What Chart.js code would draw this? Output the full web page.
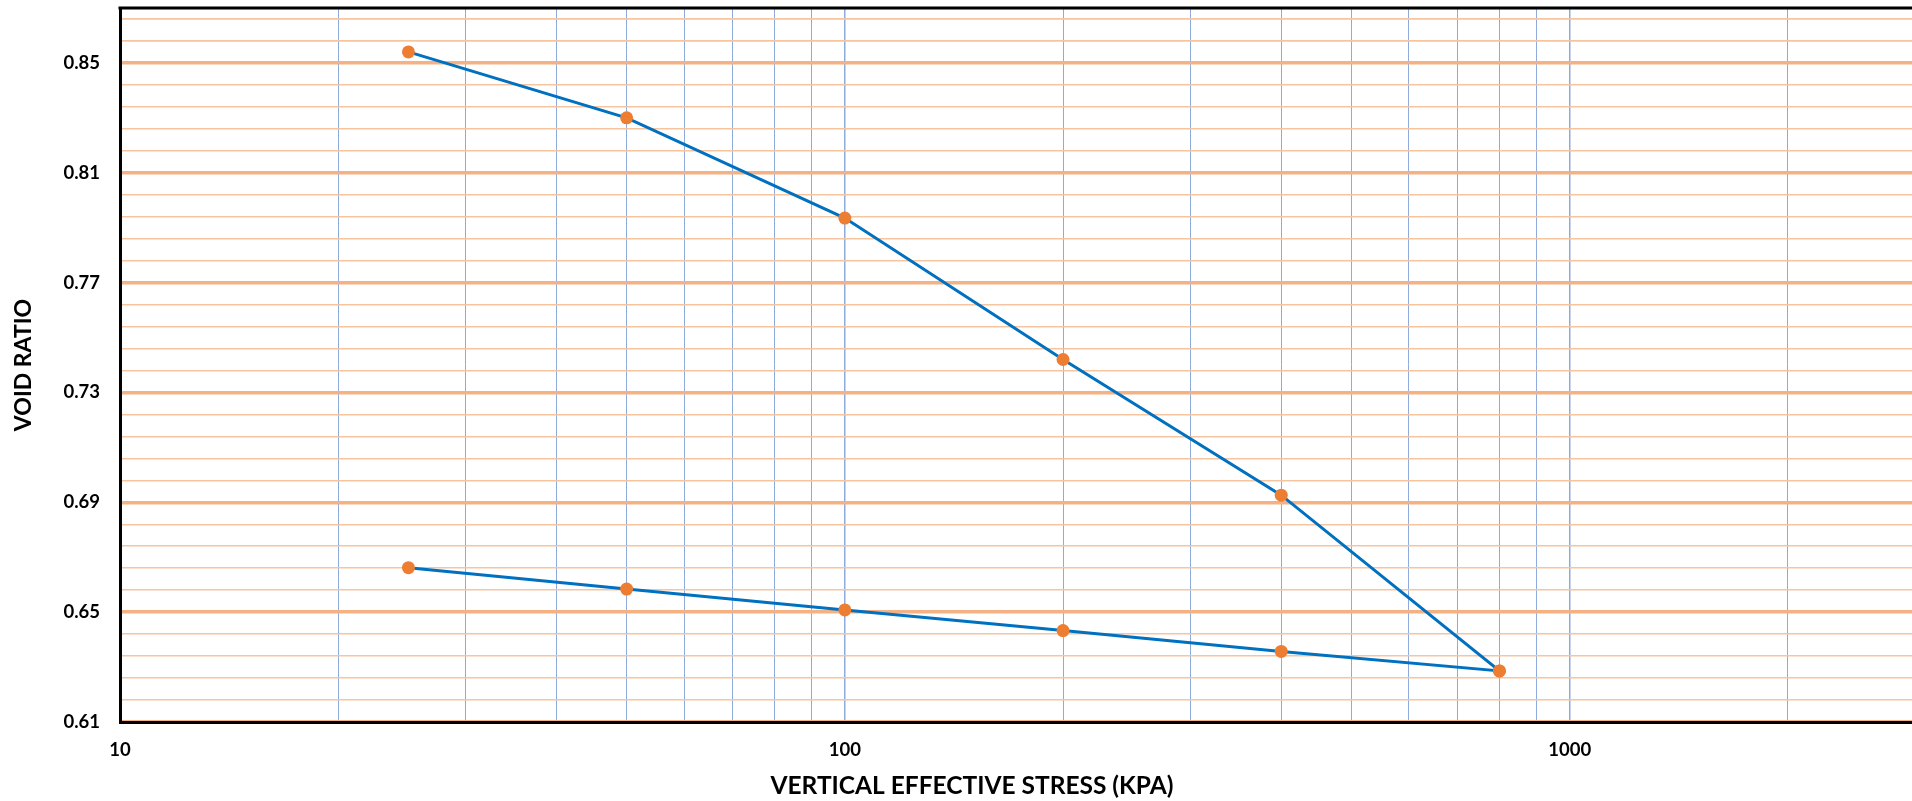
<!DOCTYPE html>
<html>
<head>
<meta charset="utf-8">
<script src="https://cdn.jsdelivr.net/npm/chart.js@4/dist/chart.umd.min.js"></script>
<style>
  html, body { margin: 0; padding: 0; background: #fff; overflow: hidden; }
  #wrap { width: 1912px; height: 801px; overflow: hidden; }
</style>
</head>
<body>
<div id="wrap"><canvas id="oedometerChart" width="1922" height="801"></canvas></div>
<script>
// Data
const stressKPa = [25, 50, 100, 200, 400, 800];
const loadingVoid = [0.854, 0.830, 0.7935, 0.742, 0.6926, 0.6286];
const unloadingVoid = [0.6662, 0.6584, 0.6508, 0.6433, 0.6357, 0.6286];

// Axes
const xTickLabels = [10, 100, 1000];
const xGridValues = [10, 20, 30, 40, 50, 60, 70, 80, 90,
  100, 200, 300, 400, 500, 600, 700, 800, 900, 1000, 2000, 3000];
const yTickLabels = [0.61, 0.65, 0.69, 0.73, 0.77, 0.81, 0.85];
const yMinorStep = 0.008;

// one curve: load up to 800, then unload back to 25
const curve = stressKPa.map((s, i) => ({ x: s, y: loadingVoid[i] }))
  .concat(stressKPa.slice().reverse().map((s, i) => ({ x: s, y: unloadingVoid[stressKPa.length - 1 - i] })));

const yGridValues = [];
yTickLabels.forEach(v => {
  for (let k = 0; k < 5; k++) yGridValues.push(+(v + k * yMinorStep).toFixed(3));
});
yGridValues.push(0.858, 0.866);

const FONT = "Lato, 'Open Sans', sans-serif";
const isMajorY = v => yTickLabels.some(t => Math.abs(t - v) < 1e-6);

// no extra room for tick labels, the plot fills the canvas
function noPadding(scale) {
  scale.paddingTop = 0;
  scale.paddingBottom = 0;
  scale.paddingLeft = 0;
  scale.paddingRight = 0;
}

// top frame line + x title (title is off-centre in the original)
const framePlugin = {
  id: "frame",
  beforeDatasetsDraw(chart) {
    const { ctx, chartArea } = chart;
    ctx.save();
    ctx.strokeStyle = "#000";
    ctx.lineWidth = 3;
    ctx.beginPath();
    ctx.moveTo(chartArea.left - 1.5, chartArea.top);
    ctx.lineTo(chartArea.right, chartArea.top);
    ctx.stroke();
    ctx.restore();
  },
  afterDraw(chart) {
    const ctx = chart.ctx;
    ctx.save();
    ctx.font = "bold 24.5px " + FONT;
    ctx.fillStyle = "#000";
    ctx.textAlign = "center";
    ctx.textBaseline = "middle";
    ctx.fillText("VERTICAL EFFECTIVE STRESS (KPA)", 972, 786);
    ctx.restore();
  }
};

new Chart(document.getElementById("oedometerChart"), {
  type: "scatter",
  data: {
    datasets: [{
      label: "Void ratio",
      data: curve,
      showLine: true,
      borderColor: "#0070C0",
      borderWidth: 3,
      pointRadius: 6.5,
      pointBackgroundColor: "#ED7D31",
      pointBorderWidth: 0,
      tension: 0
    }]
  },
  options: {
    responsive: false,
    animation: false,
    layout: { padding: { top: 8, right: 0, left: 0, bottom: 0 } },
    plugins: { legend: { display: false }, tooltip: { enabled: false } },
    scales: {
      x: {
        type: "logarithmic",
        min: 10,
        max: 3000,
        afterBuildTicks: scale => { scale.ticks = xGridValues.map(v => ({ value: v })); },
        afterFit: scale => { scale.height = 79; noPadding(scale); },
        ticks: {
          autoSkip: false,
          maxRotation: 0,
          padding: 17,
          color: "#000",
          font: { family: FONT, size: 18.5, weight: "bold" },
          callback: v => xTickLabels.includes(v) ? String(v) : ""
        },
        grid: {
          drawTicks: false,
          color: "#8FAADC",
          lineWidth: ctx => xTickLabels.includes(ctx.tick && ctx.tick.value) ? 1.5 : 1
        },
        border: { color: "#000", width: 3 },
        title: { display: false }
      },
      y: {
        min: 0.61,
        max: 0.87,
        afterBuildTicks: scale => { scale.ticks = yGridValues.map(v => ({ value: v })); },
        afterFit: scale => { scale.width = 120; noPadding(scale); },
        ticks: {
          autoSkip: false,
          padding: 20,
          color: "#000",
          font: { family: FONT, size: 18.5, weight: "bold" },
          callback: v => isMajorY(v) ? v.toFixed(2) : ""
        },
        grid: {
          drawTicks: false,
          color: ctx => isMajorY(ctx.tick && ctx.tick.value) ? "#F4B183" : "#F7C4A0",
          lineWidth: ctx => isMajorY(ctx.tick && ctx.tick.value) ? 3.5 : 1.5
        },
        border: { color: "#000", width: 3 },
        title: {
          display: true,
          text: "VOID RATIO",
          color: "#000",
          font: { family: FONT, size: 23, weight: "bold" },
          padding: { top: 10, bottom: 0 }
        }
      }
    }
  },
  plugins: [framePlugin]
});
</script>
</body>
</html>
